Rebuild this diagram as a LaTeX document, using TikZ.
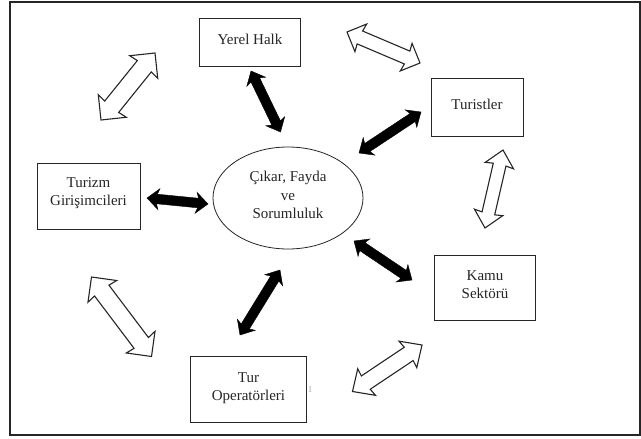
\documentclass[tikz,border=0pt]{standalone}
\usepackage{fontspec}
\setmainfont{Liberation Serif}
\usetikzlibrary{calc,shapes.geometric}
\definecolor{ink}{HTML}{262626}
\tikzset{
  txt/.style={align=center, text=ink, font=\fontsize{15}{18.5}\selectfont, inner sep=0pt},
  box/.style={draw=ink, line width=0.9pt, rectangle},
  hub/.style={draw=ink, line width=0.8pt, ellipse},
  blackarrow/.style={fill=black, draw=black, line width=0.4pt, line join=miter},
  whitearrow/.style={fill=white, draw=ink, line width=1.1pt, line join=miter},
}
% #1 style, #2 start, #3 end, #4 prefix, #5 shaft half width, #6 head half width,
% #7 head length (barbs), #8 notch distance
\newcommand{\dblarrow}[8]{%
  \coordinate (#4p) at ($(#2)!#7!(#3)$);
  \coordinate (#4q) at ($(#3)!#7!(#2)$);
  \coordinate (#4r) at ($(#2)!#8!(#3)$);
  \coordinate (#4s) at ($(#3)!#8!(#2)$);
  \draw[#1] (#2) -- ($(#4p)!#6!90:(#3)$) -- ($(#4r)!#5!90:(#3)$)
    -- ($(#4s)!#5!-90:(#2)$) -- ($(#4q)!#6!-90:(#2)$) -- (#3)
    -- ($(#4q)!#6!90:(#2)$) -- ($(#4s)!#5!90:(#2)$)
    -- ($(#4r)!#5!-90:(#3)$) -- ($(#4p)!#6!-90:(#3)$) -- cycle;
}
\begin{document}
\begin{tikzpicture}[x=1pt,y=-1pt]
\useasboundingbox (0,0) rectangle (641,439);
\fill[white] (0,0) rectangle (641,439);
\draw[ink, line width=1.4pt] (10,2) rectangle (640,435);

\node[box, minimum width=101pt, minimum height=48pt,
  label={[txt, yshift=3pt]center:Yerel Halk}] (yerel) at (250,42) {};
\node[box, minimum width=92pt, minimum height=58pt,
  label={[txt, yshift=3pt]center:Turistler}] (turist) at (477,107) {};
\node[box, minimum width=103pt, minimum height=66pt,
  label={[txt, yshift=3pt]center:{Turizm\\Girişimcileri}}] (girisim) at (88.5,196) {};
\node[box, minimum width=101pt, minimum height=65pt,
  label={[txt, yshift=3pt]center:{Kamu\\Sektörü}}] (kamu) at (485,287.5) {};
\node[box, minimum width=116pt, minimum height=66pt,
  label={[txt, yshift=1pt]center:{Tur\\Operatörleri}}] (tur) at (248.5,389) {};
\node[hub, minimum width=150pt, minimum height=102pt, inner sep=0pt,
  label={[txt, yshift=3pt]center:{Çıkar, Fayda\\ve\\Sorumluluk}}] (hub) at (288,198) {};
\node[text=gray!70, font=\fontsize{9}{10}\selectfont, inner sep=0pt] (note) at (310,390) {1};

% black arrows (hub links)
\coordinate (b1a) at (251,71);   \coordinate (b1b) at (280.5,132);
\coordinate (b2a) at (421,112);  \coordinate (b2b) at (359,153);
\coordinate (b3a) at (147,198);  \coordinate (b3b) at (208,204);
\coordinate (b4a) at (354,241);  \coordinate (b4b) at (412,280);
\coordinate (b5a) at (280,270);  \coordinate (b5b) at (240,335);
\dblarrow{blackarrow}{b1a}{b1b}{k1}{4.8pt}{10.5pt}{12pt}{10pt}
\dblarrow{blackarrow}{b2a}{b2b}{k2}{4.8pt}{10.5pt}{12pt}{10pt}
\dblarrow{blackarrow}{b3a}{b3b}{k3}{4.8pt}{10.5pt}{12pt}{10pt}
\dblarrow{blackarrow}{b4a}{b4b}{k4}{4.8pt}{10.5pt}{12pt}{10pt}
\dblarrow{blackarrow}{b5a}{b5b}{k5}{4.8pt}{10.5pt}{12pt}{10pt}

% white arrows (outer ring)
\coordinate (w1a) at (155,53);   \coordinate (w1b) at (101,120);
\coordinate (w2a) at (347,32);   \coordinate (w2b) at (420,63);
\coordinate (w3a) at (503,150);  \coordinate (w3b) at (485,228);
\coordinate (w4a) at (91.5,277); \coordinate (w4b) at (151.5,356.5);
\coordinate (w5a) at (422,345);  \coordinate (w5b) at (352.5,391.5);
\dblarrow{whitearrow}{w1a}{w1b}{h1}{9pt}{18pt}{18pt}{17pt}
\dblarrow{whitearrow}{w2a}{w2b}{h2}{7pt}{15pt}{15pt}{14pt}
\dblarrow{whitearrow}{w3a}{w3b}{h3}{6.5pt}{14.5pt}{16pt}{15pt}
\dblarrow{whitearrow}{w4a}{w4b}{h4}{9pt}{18pt}{18pt}{17pt}
\dblarrow{whitearrow}{w5a}{w5b}{h5}{8pt}{16pt}{17pt}{16pt}
\end{tikzpicture}
\end{document}
